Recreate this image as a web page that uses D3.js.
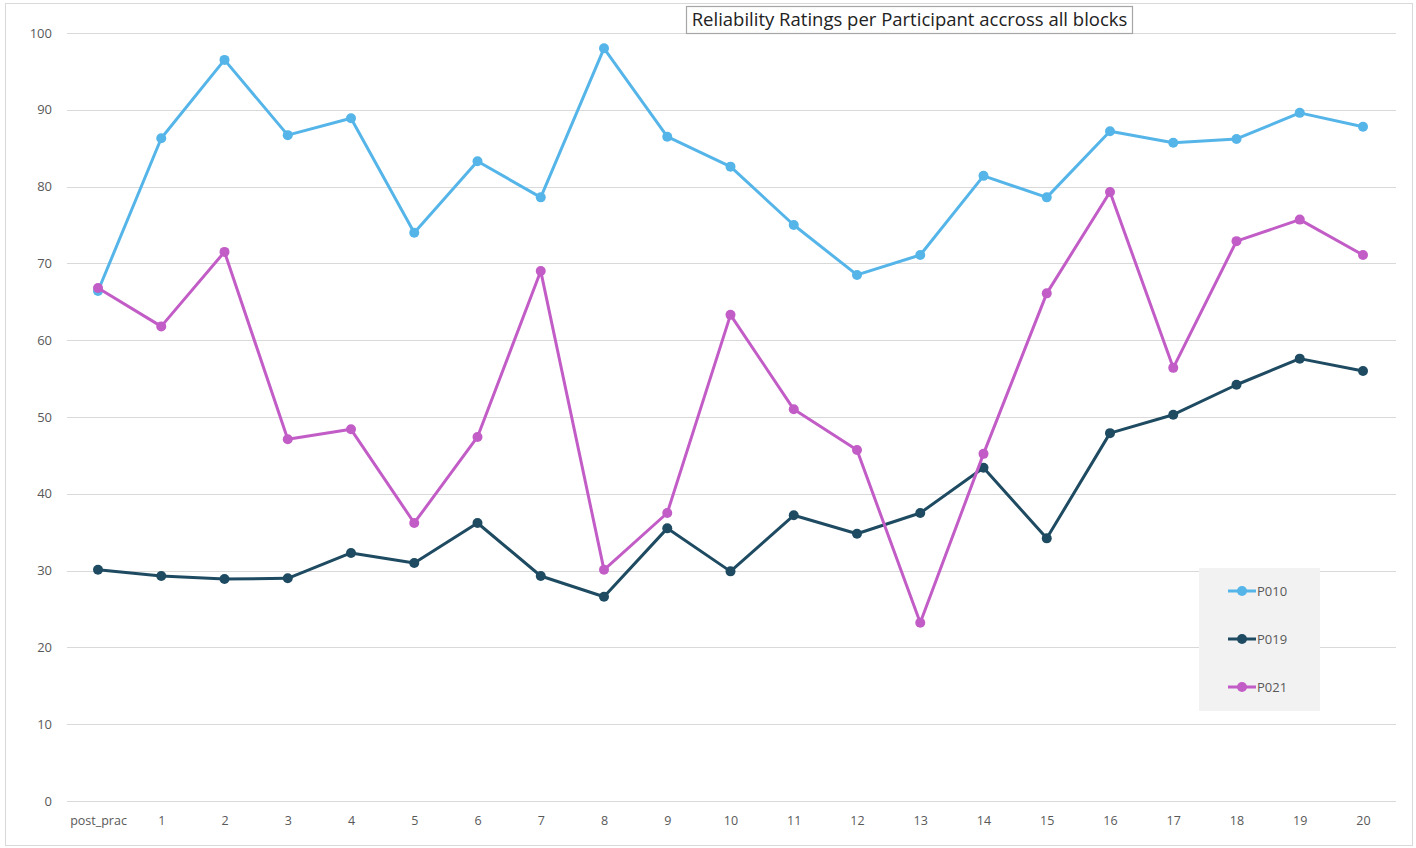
<!DOCTYPE html>
<html>
<head>
<meta charset="utf-8">
<script src="https://cdn.jsdelivr.net/npm/d3@7"></script>
<style>
  html, body { margin: 0; padding: 0; background: #fff; }
  svg { display: block; font-family: "Open Sans", "Liberation Sans", sans-serif; }
</style>
</head>
<body>
<svg id="chart" width="1416" height="848"></svg>
<script>
const categories = ["post_prac","1","2","3","4","5","6","7","8","9","10","11","12","13","14","15","16","17","18","19","20"];
const P010 = [66.4,86.3,96.5,86.7,88.9,74.0,83.3,78.6,98.0,86.5,82.6,75.0,68.5,71.1,81.4,78.6,87.2,85.7,86.2,89.6,87.8];
const P019 = [30.1,29.3,28.9,29.0,32.3,31.0,36.2,29.3,26.6,35.5,29.9,37.2,34.8,37.5,43.4,34.2,47.9,50.3,54.2,57.6,56.0];
const P021 = [66.8,61.8,71.5,47.1,48.4,36.2,47.4,69.0,30.1,37.5,63.3,51.0,45.7,23.2,45.2,66.1,79.3,56.4,72.9,75.7,71.1];
const seriesNames = ["P010","P019","P021"];
const seriesColors = ["#55b5e9","#1e4b62","#c25cc6"];
const yTicks = [0,10,20,30,40,50,60,70,80,90,100];
const title = "Reliability Ratings per Participant accross all blocks";

const seriesData = [P010, P019, P021];
const svg = d3.select("#chart");

// outer border
svg.append("rect").attr("x",5.5).attr("y",3.5).attr("width",1407).attr("height",842)
  .attr("fill","#fff").attr("stroke","#d9d9d9").attr("stroke-width",1);

const plotLeft = 67, plotRight = 1396, plotTop = 33, plotBottom = 801;
const x = d3.scalePoint().domain(categories).range([98, 1363]);
const y = d3.scaleLinear().domain([0,100]).range([plotBottom, plotTop]);

// gridlines
svg.append("g").selectAll("line").data(yTicks).join("line")
  .attr("x1",plotLeft).attr("x2",plotRight)
  .attr("y1",d=>Math.round(y(d))+0.5).attr("y2",d=>Math.round(y(d))+0.5)
  .attr("stroke","#d9d9d9").attr("stroke-width",1);

// y axis labels
const yAxis = d3.axisLeft(y).tickValues(yTicks).tickSize(0).tickPadding(0);
const yg = svg.append("g").attr("transform",`translate(52,0)`).call(yAxis);
yg.select(".domain").remove();
yg.selectAll("text").attr("fill","#595959").style("font-size","13px")
  .style("font-family","'Open Sans', sans-serif");

// x axis labels
const xAxis = d3.axisBottom(x).tickSize(0).tickPadding(0);
const xg = svg.append("g").attr("transform",`translate(0,816)`).call(xAxis);
xg.select(".domain").remove();
xg.selectAll("text").attr("fill","#595959").style("font-size","12.5px")
  .style("font-family","'Open Sans', sans-serif");

// lines
const line = d3.line().x((d,i)=>x(categories[i])).y(d=>y(d));
seriesData.forEach((s,k)=>{
  const g = svg.append("g");
  g.append("path").datum(s).attr("d",line).attr("fill","none")
    .attr("stroke",seriesColors[k]).attr("stroke-width",3).attr("stroke-linejoin","round");
  g.selectAll("circle").data(s).join("circle")
    .attr("cx",(d,i)=>x(categories[i])).attr("cy",d=>y(d)).attr("r",5)
    .attr("fill",seriesColors[k]);
});

// title box
const tg = svg.append("g");
const tt = tg.append("text").attr("x",909.5).attr("y",26).attr("text-anchor","middle")
  .attr("fill","#222").style("font-size","18.5px").style("font-family","'Open Sans', sans-serif")
  .text(title);
tg.insert("rect","text").attr("x",686.5).attr("y",6.5).attr("width",446).attr("height",27)
  .attr("fill","#fff").attr("stroke","#a6a6a6").attr("stroke-width",1.2);

// legend
const lg = svg.append("g");
lg.append("rect").attr("x",1199).attr("y",568).attr("width",121).attr("height",143).attr("fill","#f2f2f2");
seriesNames.forEach((n,k)=>{
  const ly = 591 + k*48;
  lg.append("line").attr("x1",1228).attr("x2",1256).attr("y1",ly).attr("y2",ly)
    .attr("stroke",seriesColors[k]).attr("stroke-width",3);
  lg.append("circle").attr("cx",1242).attr("cy",ly).attr("r",5).attr("fill",seriesColors[k]);
  lg.append("text").attr("x",1257).attr("y",ly+5).attr("fill","#595959")
    .style("font-size","13px").style("font-family","'Open Sans', sans-serif").text(n);
});
</script>
</body>
</html>
